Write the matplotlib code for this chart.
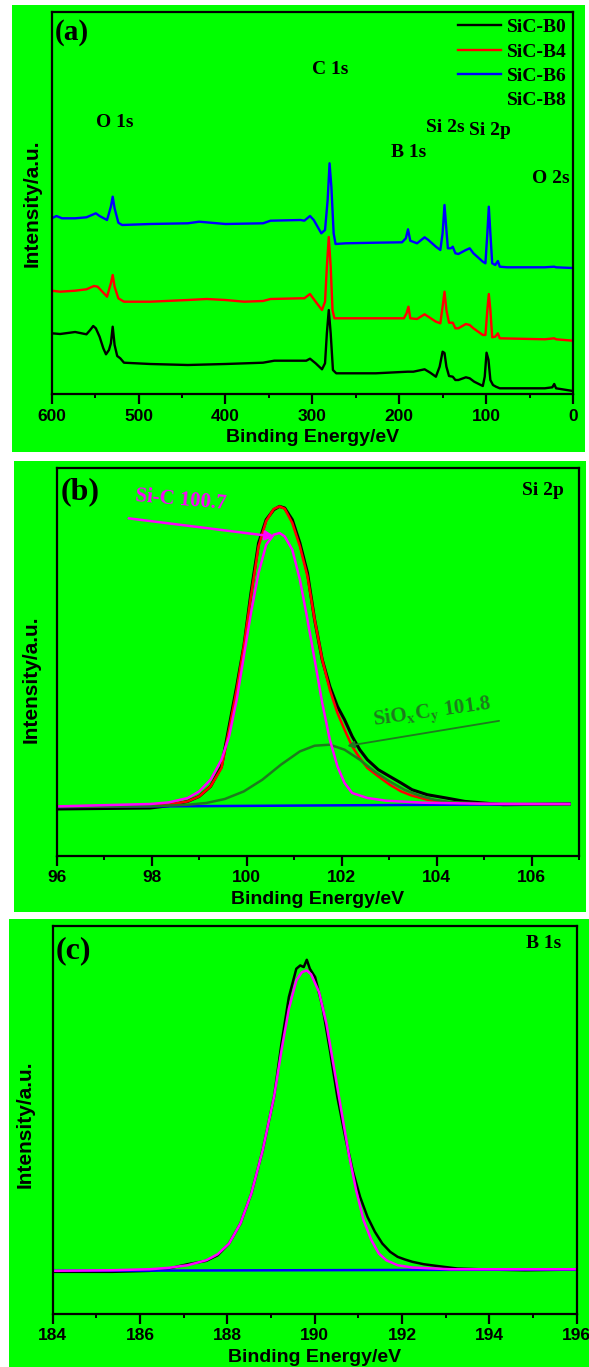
import matplotlib
matplotlib.use("Agg")
import matplotlib.pyplot as plt
from matplotlib.patches import Rectangle
from matplotlib.lines import Line2D
from matplotlib.ticker import MultipleLocator

GREEN_BG = "#00FF00"
FIT_GREEN = "#1E7B1E"

# ---------------- (a) survey spectra ----------------
b0_energy = [600, 590.3, 573.0, 560.0, 555.7, 552.2, 549.2, 544.9, 540.6, 537.5, 534.1, 531.9,
             529.8, 527.6, 524.6, 521.1, 516.8, 486.5, 443.3, 400.0, 356.8, 343.8, 313.5, 307.0,
             302.7, 296.2, 288.9, 285.4, 283.3, 281.1, 278.9, 276.3, 272.5, 227.0, 190.3, 183.8,
             170.8, 164.3, 157.8, 153.5, 150.1, 147.9, 145.7, 142.7, 138.4, 135.4, 131.9, 123.3,
             118.9, 113.7, 103.8, 101.6, 99.5, 97.3, 95.1, 92.1, 88.7, 84.3, 32.4, 23.8, 21.6,
             19.5, 0]
b0_counts = [60.7, 60.0, 62.0, 59.7, 64.0, 68.0, 65.7, 57.3, 45.7, 39.7, 44.0, 50.7,
             67.3, 49.0, 38.0, 35.7, 31.3, 30.0, 29.0, 30.0, 31.3, 33.3, 33.3, 33.3,
             35.3, 30.7, 24.7, 30.7, 60.7, 84.0, 60.7, 24.0, 20.7, 20.7, 22.3, 22.3,
             24.7, 21.3, 17.3, 27.3, 42.3, 41.0, 27.3, 18.0, 17.3, 14.0, 14.0, 16.7,
             15.7, 12.3, 8.0, 17.3, 41.3, 34.3, 14.0, 9.0, 7.3, 5.7, 5.7, 6.7, 10.0,
             5.7, 3.0]

b4_energy = [600, 590.3, 573.0, 560.0, 551.4, 547.1, 536.3, 531.9, 529.8, 527.6, 523.3, 516.8,
             486.5, 443.3, 421.6, 400.0, 378.4, 356.8, 348.1, 313.5, 309.2, 302.7, 296.2, 288.9,
             285.4, 283.3, 281.1, 278.9, 276.8, 274.6, 227.0, 194.6, 191.6, 189.4, 187.3, 179.5,
             170.8, 166.5, 157.8, 152.7, 150.1, 147.9, 145.7, 142.7, 138.4, 135.4, 131.9, 123.3,
             118.9, 114.6, 103.8, 100.8, 98.6, 96.9, 95.1, 93.0, 89.5, 86.5, 84.3, 32.4, 21.6,
             19.5, 0]
b4_counts = [103.3, 102.3, 103.3, 104.7, 108.0, 107.3, 97.3, 110.7, 119.0, 107.3, 95.7, 92.3,
             92.3, 94.0, 95.0, 94.0, 92.3, 93.0, 95.0, 95.7, 95.7, 100.0, 92.3, 84.0,
             92.3, 127.3, 157.0, 127.3, 84.0, 75.7, 75.7, 75.7, 80.7, 87.3, 75.7, 75.0,
             79.7, 77.3, 72.3, 70.7, 87.3, 102.3, 84.0, 71.3, 71.3, 65.7, 65.7, 70.0,
             69.0, 65.7, 59.0, 59.0, 84.0, 100.0, 84.0, 56.7, 57.3, 60.7, 55.7, 54.7, 55.7,
             54.7, 53.3]

b6_energy = [600, 594.6, 588.1, 573.0, 560.0, 549.2, 544.9, 536.3, 531.9, 529.8, 527.6, 523.3,
             519.0, 486.5, 443.3, 430.3, 400.0, 356.8, 348.1, 313.5, 309.2, 302.7, 298.4, 289.7,
             285.4, 282.4, 280.2, 278.1, 275.5, 273.3, 261.6, 227.0, 196.8, 192.4, 189.9, 187.3,
             179.5, 170.8, 166.5, 157.8, 152.7, 150.1, 147.9, 145.7, 144.0, 140.5, 138.4, 135.4,
             131.9, 123.3, 118.9, 114.6, 103.8, 100.8, 98.6, 96.9, 95.1, 93.0, 89.5, 86.5, 84.3,
             75.7, 32.4, 21.6, 19.5, 0]
b6_counts = [175.7, 178.0, 175.7, 175.7, 176.7, 180.7, 178.0, 174.0, 187.3, 197.3, 185.7, 171.3,
             169.0, 170.0, 170.7, 172.3, 170.0, 170.7, 173.3, 174.0, 173.3, 178.0, 174.0, 160.7,
             164.0, 194.0, 230.7, 207.3, 160.7, 150.0, 150.7, 151.3, 151.7, 155.7, 164.7, 153.3,
             150.7, 156.7, 154.0, 147.3, 144.0, 160.7, 189.0, 164.0, 145.7, 145.7, 147.3, 140.7,
             140.0, 144.0, 145.7, 140.7, 132.3, 130.7, 160.7, 187.3, 160.7, 130.7, 129.0, 133.0,
             127.3, 126.7, 126.7, 127.3, 126.7, 126.0]

survey_labels = ["O 1s", "C 1s", "B 1s", "Si 2s", "Si 2p", "O 2s"]
survey_label_x = [527, 279, 189, 147, 95.5, 25]
survey_label_y = [0.711, 0.850, 0.633, 0.696, 0.688, 0.565]

# ---------------- (b) Si 2p ----------------
si_energy = [96.0, 97.97, 98.36, 98.76, 99.0, 99.24, 99.47, 99.63, 99.79, 99.94, 100.09,
             100.25, 100.41, 100.57, 100.69, 100.80, 100.96, 101.12, 101.28, 101.43, 101.59,
             101.75, 101.91, 102.06, 102.22, 102.38, 102.54, 102.77, 103.01, 103.25, 103.48,
             103.80, 104.20, 104.59, 105.40, 106.79]
si_raw = [46.7, 47.7, 50.0, 54.3, 59.3, 69.3, 89.3, 129.3, 169.3, 209.3, 262.7, 312.7,
          336.0, 346.0, 349.3, 347.7, 336.0, 312.7, 282.7, 236.0, 196.0, 169.3, 149.3, 136.0,
          119.3, 106.0, 96.0, 86.0, 79.3, 72.7, 66.0, 61.0, 57.7, 54.3, 51.0, 51.7]
si_envelope = [49.3, 50.0, 51.0, 54.3, 59.3, 69.3, 87.7, 126.0, 166.0, 209.3, 259.3, 309.3,
               334.7, 346.7, 349.3, 347.0, 332.7, 309.3, 279.3, 236.0, 196.0, 166.0, 142.7,
               126.0, 109.3, 97.7, 87.7, 79.3, 71.0, 64.3, 60.0, 56.0, 53.7, 52.0, 51.3, 51.7]
sic_energy = [96.0, 97.97, 98.36, 98.76, 99.0, 99.24, 99.47, 99.63, 99.79, 99.94, 100.09,
              100.25, 100.41, 100.57, 100.69, 100.80, 100.96, 101.12, 101.28, 101.43, 101.59,
              101.75, 101.91, 102.06, 102.22, 102.54, 102.93, 103.72, 104.91, 106.79]
sic_fit = [49.3, 51.7, 53.3, 57.7, 64.3, 76.0, 96.0, 119.3, 156.0, 199.3, 242.7, 282.7,
           311.0, 321.0, 322.7, 319.3, 306.0, 276.0, 236.0, 196.0, 152.7, 116.0, 89.3, 72.7,
           62.7, 57.7, 55.0, 53.0, 52.0, 51.7]
siox_energy = [96.0, 97.97, 98.76, 99.15, 99.54, 99.94, 100.33, 100.72, 101.12, 101.43,
               101.75, 102.06, 102.38, 102.69, 103.01, 103.32, 103.64, 103.95, 104.27, 105.06,
               106.79]
siox_fit = [48.7, 49.3, 51.0, 52.7, 56.7, 64.3, 76.0, 91.0, 104.3, 110.0, 111.0, 106.0,
            96.0, 84.3, 74.3, 66.0, 60.0, 56.0, 53.7, 52.0, 51.3]
si_base_energy = [96.0, 106.79]
si_base = [48.7, 51.7]

# ---------------- (c) B 1s ----------------
b_energy = [184.0, 185.37, 186.23, 186.66, 187.09, 187.52, 187.78, 188.04, 188.30, 188.55,
            188.81, 189.07, 189.24, 189.41, 189.58, 189.67, 189.75, 189.82, 189.89, 190.01,
            190.18, 190.35, 190.52, 190.70, 190.87, 191.04, 191.21, 191.38, 191.55, 191.73,
            191.90, 192.07, 192.24, 192.50, 192.85, 193.27, 193.96, 194.82, 196.0]
b_raw = [41.7, 41.7, 42.7, 45.0, 49.3, 52.7, 58.3, 70.0, 90.0, 120.0, 163.3, 216.7,
         270.0, 316.7, 345.0, 348.3, 346.7, 354.0, 345.0, 336.7, 306.7, 263.3, 216.7, 176.7,
         143.3, 116.7, 96.7, 81.7, 70.0, 61.7, 56.7, 54.0, 51.7, 49.3, 47.3, 45.0, 44.0,
         43.3, 44.0]
b_fit_energy = [184.0, 185.37, 186.23, 186.66, 187.09, 187.52, 187.78, 188.04, 188.30, 188.55,
                188.81, 189.07, 189.24, 189.41, 189.58, 189.71, 189.82, 189.92, 190.10, 190.27,
                190.44, 190.61, 190.78, 190.95, 191.12, 191.30, 191.47, 191.64, 191.90, 192.24,
                193.10, 196.0]
b_fit = [42.7, 43.3, 44.3, 45.7, 48.3, 53.3, 59.3, 70.0, 90.0, 120.0, 163.3, 216.7,
         263.3, 305.0, 333.3, 341.7, 343.3, 339.3, 321.7, 290.0, 246.7, 203.3, 160.0, 123.3,
         93.3, 73.3, 60.0, 53.3, 48.3, 46.0, 44.3, 44.3]
b_base_energy = [184.0, 196.0]
b_base = [42.7, 44.0]

SERIF = ["Liberation Serif", "DejaVu Serif"]
SANS = ["Liberation Sans", "DejaVu Sans"]

plt.rcParams["font.family"] = SANS
plt.rcParams["font.weight"] = "bold"
plt.rcParams["axes.linewidth"] = 1.6
plt.rcParams["mathtext.fontset"] = "stix"

fig = plt.figure(figsize=(5.89, 13.67), dpi=100)
W, H = 589.0, 1367.0


def px_box(x0, y0, x1, y1):
    # pixel box (top-left origin) -> figure fraction [left, bottom, width, height]
    return [x0 / W, (H - y1) / H, (x1 - x0) / W, (y1 - y0) / H]


for box in [(12, 5, 585, 452), (14, 461, 586, 912), (9, 919, 589, 1367)]:
    l, b, w, h = px_box(*box)
    fig.add_artist(Rectangle((l, b), w, h, transform=fig.transFigure,
                             facecolor=GREEN_BG, edgecolor="none", zorder=-5))

ax_a = fig.add_axes(px_box(51.7, 11.7, 573, 394))
ax_b = fig.add_axes(px_box(56.6, 468, 579.3, 855.7))
ax_c = fig.add_axes(px_box(52.6, 925.5, 576.7, 1313.5))


def style_axes(ax, major, minor):
    ax.set_facecolor(GREEN_BG)
    ax.set_yticks([])
    ax.xaxis.set_major_locator(MultipleLocator(major))
    ax.xaxis.set_minor_locator(MultipleLocator(minor))
    ax.tick_params(axis="x", which="major", direction="out", length=7, width=1.6,
                   pad=3.5, labelsize=12.5)
    ax.tick_params(axis="x", which="minor", direction="out", length=3, width=1.4)
    for lbl in ax.get_xticklabels():
        lbl.set_fontweight("bold")
    ax.set_xlabel("Binding Energy/eV", fontsize=14, fontweight="bold", labelpad=4)
    ax.set_ylabel("Intensity/a.u.", fontsize=15, fontweight="bold")


# (a)
lw = 1.7
ax_a.plot(b0_energy, b0_counts, color="black", lw=lw, label="SiC-B0")
ax_a.plot(b4_energy, b4_counts, color="red", lw=lw, label="SiC-B4")
ax_a.plot(b6_energy, b6_counts, color="blue", lw=lw, label="SiC-B6")
ax_a.set_xlim(600, 0)
ax_a.set_ylim(0, 382.3)
style_axes(ax_a, 100, 50)
ax_a.yaxis.set_label_coords(-0.02, 0.5)
handles, labels = ax_a.get_legend_handles_labels()
handles.append(Line2D([], [], color=GREEN_BG, lw=lw))
labels.append("SiC-B8")
ax_a.legend(handles, labels, loc="upper right", frameon=False,
            prop={"family": SERIF, "weight": "bold", "size": 14},
            handlelength=2.2, handletextpad=0.3, labelspacing=0.35,
            borderaxespad=0.15, borderpad=0.2)
for txt, x, y in zip(survey_labels, survey_label_x, survey_label_y):
    ax_a.text(x, y, txt, transform=ax_a.get_xaxis_transform(), ha="center", va="center",
              fontsize=14, fontweight="bold", family=SERIF)
ax_a.text(0.005, 0.946, "(a)", transform=ax_a.transAxes, ha="left", va="center",
          fontsize=21, fontweight="bold", family=SERIF)

# (b)
ax_b.plot(si_energy, si_raw, color="black", lw=2.2)
ax_b.plot(si_energy, si_envelope, color="red", lw=1.8)
ax_b.plot(si_base_energy, si_base, color="blue", lw=1.8)
ax_b.plot(siox_energy, siox_fit, color=FIT_GREEN, lw=1.8)
ax_b.plot(sic_energy, sic_fit, color="magenta", lw=1.8)
ax_b.set_xlim(96, 107)
ax_b.set_ylim(0, 387.7)
style_axes(ax_b, 2, 1)
ax_b.yaxis.set_label_coords(-0.03, 0.454)
ax_b.annotate("", xy=(100.65, 318.7), xytext=(97.46, 337.7),
              arrowprops=dict(arrowstyle="-|>", color="magenta", lw=1.8,
                              mutation_scale=14))
ax_b.text(97.65, 342, "Si-C 100.7", color="magenta", fontsize=15, fontweight="bold",
          family=SERIF, rotation=-5, ha="left", va="bottom")
ax_b.annotate("", xy=(102.06, 109.3), xytext=(105.37, 135.3),
              arrowprops=dict(arrowstyle="-|>", color=FIT_GREEN, lw=1.3,
                              mutation_scale=10))
ax_b.text(103.9, 142.7, r"SiO$_{\mathbf{x}}$C$_{\mathbf{y}}$ 101.8", color=FIT_GREEN,
          fontsize=15, fontweight="bold", family=SERIF, rotation=8,
          ha="center", va="center")
ax_b.text(0.93, 0.942, "Si 2p", transform=ax_b.transAxes, ha="center", va="center",
          fontsize=14, fontweight="bold", family=SERIF)
ax_b.text(0.007, 0.94, "(b)", transform=ax_b.transAxes, ha="left", va="center",
          fontsize=23, fontweight="bold", family=SERIF)

# (c)
ax_c.plot(b_energy, b_raw, color="black", lw=1.8)
ax_c.plot(b_base_energy, b_base, color="blue", lw=1.8)
ax_c.plot(b_fit_energy, b_fit, color="magenta", lw=1.8)
ax_c.set_xlim(184, 196)
ax_c.set_ylim(0, 388.3)
style_axes(ax_c, 2, 1)
ax_c.yaxis.set_label_coords(-0.035, 0.487)
ax_c.text(0.936, 0.953, "B 1s", transform=ax_c.transAxes, ha="center", va="center",
          fontsize=14, fontweight="bold", family=SERIF)
ax_c.text(0.0065, 0.936, "(c)", transform=ax_c.transAxes, ha="left", va="center",
          fontsize=23, fontweight="bold", family=SERIF)

fig.savefig("out.png", dpi=100, facecolor="white")
plt.close(fig)
print("Saved out.png")
